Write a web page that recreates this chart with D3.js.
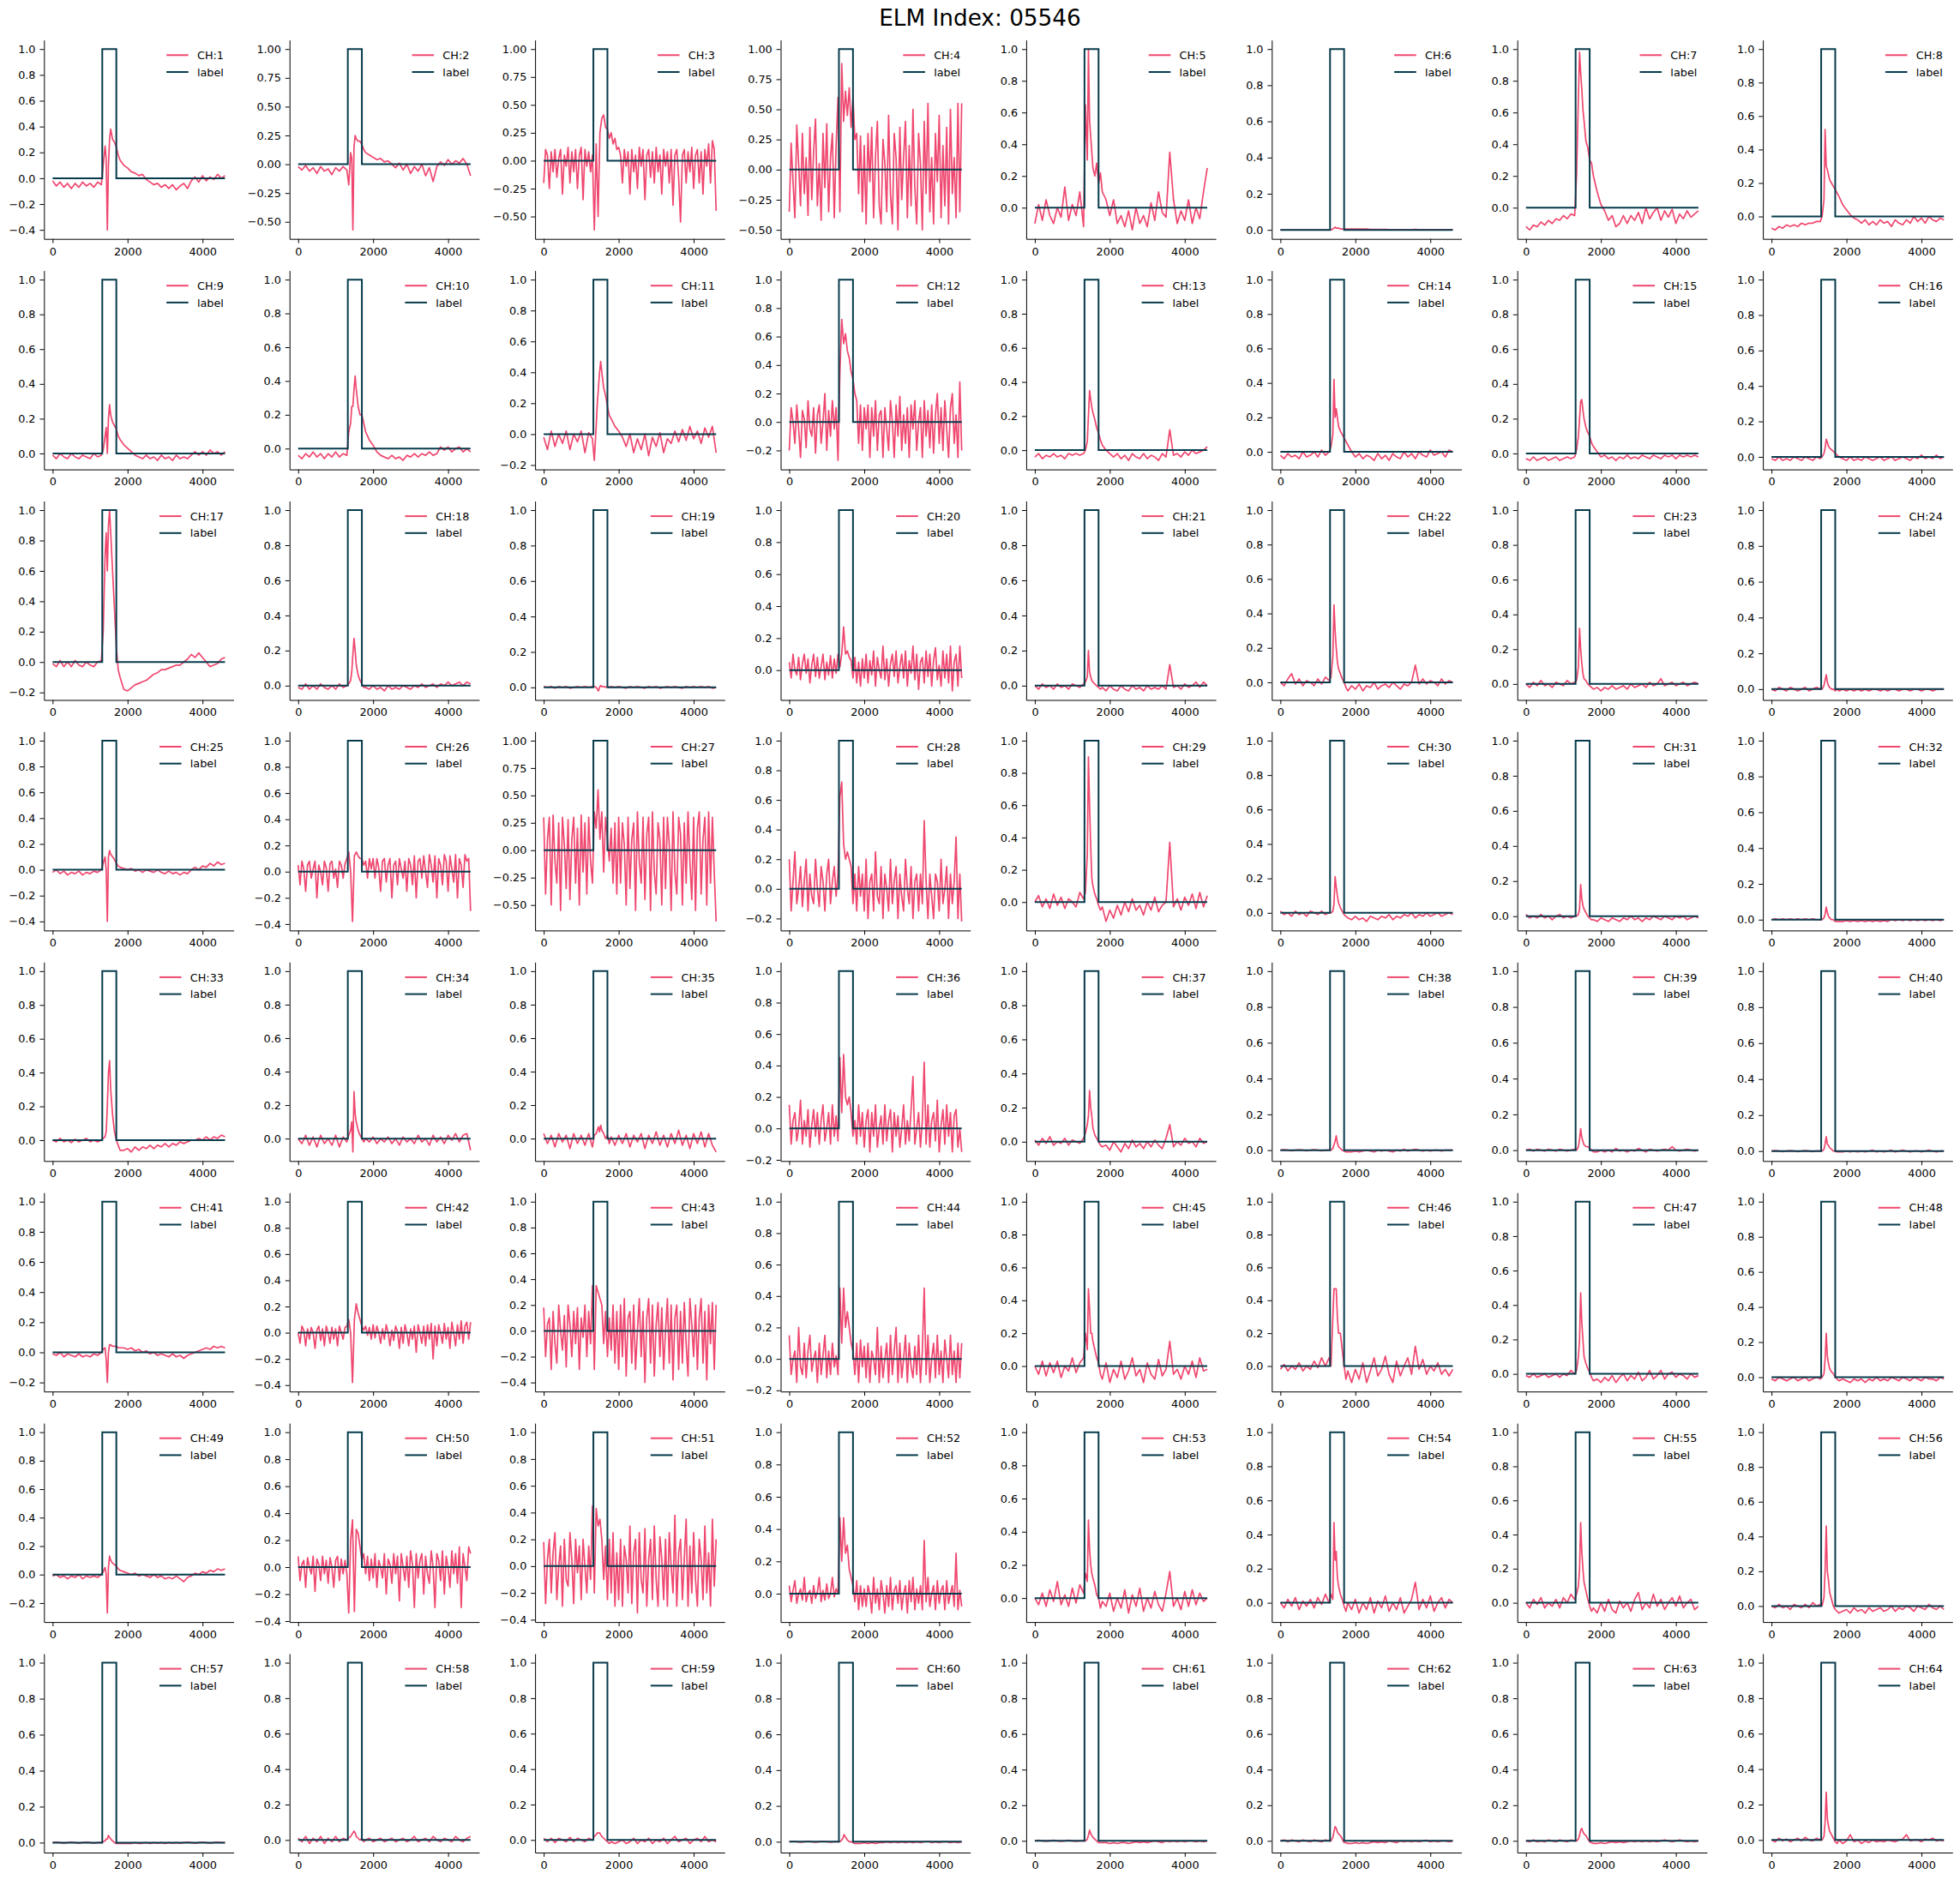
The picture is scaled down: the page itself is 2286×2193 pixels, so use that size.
<!DOCTYPE html>
<html><head><meta charset="utf-8">
<script src="https://cdn.jsdelivr.net/npm/d3@7"></script>
<style>body{margin:0;background:#fff} svg{display:block} text{font-family:"DejaVu Sans",sans-serif}</style>
</head><body>
<script>
const W=2286,H=2193;
const titleText="ELM Index: 05546";
// sample positions (time index) for the regular channels
const sampleX=[0,100,200,300,400,500,600,700,800,900,1000,1100,1200,1300,1350,1400,1430,1460,1490,1520,1550,1600,1650,1700,1750,1800,1900,2000,2100,2200,2300,2400,2500,2600,2700,2800,2900,3000,3100,3200,3300,3400,3500,3600,3700,3800,3900,4000,4100,4200,4300,4400,4500,4600];
// denser sample positions for the very noisy channels
const denseX=[0,50,100,150,200,250,300,350,400,450,500,550,600,650,700,750,800,850,900,950,1000,1050,1100,1150,1200,1250,1300,1350,1400,1450,1500,1550,1600,1650,1700,1750,1800,1850,1900,1950,2000,2050,2100,2150,2200,2250,2300,2350,2400,2450,2500,2550,2600,2650,2700,2750,2800,2850,2900,2950,3000,3050,3100,3150,3200,3250,3300,3350,3400,3450,3500,3550,3600,3650,3700,3750,3800,3850,3900,3950,4000,4050,4100,4150,4200,4250,4300,4350,4400,4450,4500,4550,4600];
const labelX=[0,1325,1325,1700,1700,4600];
const labelY=[0,0,1,1,0,0];
const xTicks=[0,2000,4000];
const legendLabel="label";

const ch1=[-0.02,-0.06,-0.03,-0.07,-0.04,-0.08,-0.04,-0.07,-0.03,-0.06,-0.04,-0.07,-0.03,-0.05, 0.1,0.25,0.15,-0.4,0.1,0.3,0.38,0.3,0.28,0.24,0.18,0.14, 0.1,0.08,0.05,0.04,0.02,0.03,-0.01,-0.03,-0.05,-0.04,-0.07,-0.05,-0.08,-0.05,-0.09,-0.06,-0.04,-0.08,-0.02,0.01,-0.03,0.02,-0.02,0.01,-0.01,0.03,0.0,0.02];
const ch2=[-0.02,-0.05,-0.01,-0.06,-0.03,-0.08,-0.02,-0.06,-0.04,-0.09,-0.03,-0.06,-0.02,-0.05, -0.18,0.1,0.05,-0.57,0.15,0.25,0.22,0.2,0.2,0.17,0.13,0.1, 0.08,0.06,0.04,0.05,0.02,0.03,0.0,-0.03,0.01,-0.05,0.0,-0.08,-0.02,-0.06,0.0,-0.1,-0.03,-0.15,-0.02,0.02,-0.01,0.04,0.0,0.03,0.01,0.05,0.0,-0.1];
const ch3=[-0.2,0.1,0.05,-0.25,0.08,-0.1,0.1,-0.15,0.02,0.1,-0.3,0.05,-0.05,0.12,-0.2,0.08,-0.1,0.1,-0.25,0.05,0.12,-0.35,0.1,-0.05,0.08,-0.1, 0.05,-0.62,0.15,-0.5,0.25,0.38,0.41,0.3,0.28,0.2,0.25,0.15,0.2,0.1,0.12, 0.05,-0.2,0.1,-0.05,0.08,-0.3,0.1,-0.1,0.05,-0.25,0.12,-0.05,0.1,-0.35,0.05,0.1,-0.15,0.08,-0.2,0.12,-0.1,0.05,-0.3,0.1,-0.05,0.08,-0.2,0.1,-0.4,0.05,0.1,-0.15,-0.55,0.05,0.1,-0.2,0.08,-0.1,0.12,-0.25,0.05,0.1,-0.2,0.08,-0.3,0.1,-0.05,0.15,-0.2,0.18,0.1,-0.45];
const ch4=[-0.35,0.22,-0.1,-0.4,0.37,0.05,-0.3,0.3,-0.2,0.1,-0.38,0.35,-0.25,0.15,0.42,-0.3,0.05,-0.42,0.3,-0.15,0.38,-0.35,0.1,0.3,-0.4,0.2, 0.6,-0.35,0.88,0.4,0.65,0.45,0.68,0.35,0.6,0.25,0.3,-0.2,0.28,-0.35,0.2, -0.45,0.3,-0.1,0.35,-0.4,0.1,0.4,-0.3,-0.45,0.25,0.05,-0.35,0.45,-0.2,-0.45,0.3,0.1,-0.5,0.35,-0.25,0.1,0.4,-0.4,0.2,-0.3,0.5,-0.15,-0.45,0.3,0.05,-0.5,0.4,-0.2,0.55,-0.35,0.1,-0.45,0.3,-0.1,0.45,-0.4,0.2,-0.3,0.35,-0.45,0.5,-0.2,0.1,-0.4,0.55,-0.35,0.55];
const ch5=[-0.1,0.02,-0.08,0.05,-0.05,-0.1,0.0,-0.06,0.13,-0.08,0.02,-0.05,0.1,-0.12, 0.65,0.3,1.0,0.55,0.45,0.35,0.25,0.2,0.28,0.15,0.22,0.1, 0.05,-0.05,0.05,-0.1,-0.05,-0.12,-0.02,-0.14,0.0,-0.1,-0.05,-0.12,0.03,-0.08,0.1,-0.03,-0.06,0.35,0.05,-0.1,-0.02,-0.08,0.05,-0.1,0.0,-0.07,0.1,0.25];
const ch6=[0,0,0,0,0,0,0,0,0,0,0,0,0,0, 0,0.005,0.01,0.015,0.01,0.01,0.01,0.005,0.005,0.005,0.005,0.005, 0.005,0.005,0.005,0.005,0.005,0.003,0.003,0.003,0.003,0.003,0.002,0.002,0.002,0.002,0.002,0.002,0.002,0.003,0.002,0.002,0.002,0.002,0.002,0.002,0.002,0.002,0.002,0.002];
const ch7=[-0.12,-0.14,-0.11,-0.12,-0.09,-0.11,-0.08,-0.1,-0.07,-0.08,-0.05,-0.07,-0.04,-0.05, 0.2,0.7,0.98,0.85,0.75,0.62,0.55,0.42,0.38,0.3,0.28,0.2, 0.1,0.02,-0.02,-0.08,-0.05,-0.12,-0.1,-0.05,-0.1,-0.05,-0.08,-0.03,-0.1,0.0,-0.07,-0.03,0.0,-0.08,-0.02,-0.06,-0.01,-0.1,-0.04,-0.07,-0.02,-0.06,-0.04,-0.02];
const ch8=[-0.07,-0.08,-0.06,-0.07,-0.05,-0.06,-0.05,-0.06,-0.04,-0.05,-0.04,-0.04,-0.03,-0.03, 0.0,0.1,0.52,0.3,0.28,0.25,0.22,0.2,0.18,0.16,0.14,0.12, 0.07,0.04,0.01,-0.01,-0.02,-0.04,-0.02,-0.05,-0.03,-0.05,-0.02,-0.04,-0.03,-0.06,-0.02,-0.04,-0.05,-0.02,-0.04,0.0,-0.03,-0.01,-0.04,0.0,-0.02,-0.03,-0.01,-0.02];
const ch9=[-0.01,-0.03,0.0,-0.02,-0.03,0.0,-0.02,-0.03,-0.01,-0.02,-0.03,0.0,-0.02,-0.01, 0.02,0.1,0.15,0.0,0.2,0.28,0.22,0.18,0.16,0.14,0.1,0.08, 0.05,0.03,0.01,-0.01,-0.02,-0.03,-0.01,-0.03,-0.02,-0.04,-0.01,-0.03,-0.02,-0.04,-0.01,-0.03,-0.02,-0.03,-0.01,0.01,-0.01,0.01,-0.01,0.02,0.0,0.01,-0.01,0.01];
const ch10=[-0.04,-0.06,-0.03,-0.05,-0.02,-0.05,-0.03,-0.06,-0.03,-0.05,-0.02,-0.05,-0.03,-0.04, 0.1,0.15,0.25,0.25,0.35,0.43,0.35,0.25,0.2,0.2,0.15,0.1, 0.05,0.02,-0.02,-0.04,-0.05,-0.06,-0.04,-0.06,-0.05,-0.07,-0.04,-0.05,-0.03,-0.05,-0.03,-0.04,-0.02,-0.04,-0.03,0.01,-0.01,0.01,-0.02,0.0,0.01,-0.02,0.0,-0.02];
const ch11=[-0.02,-0.1,0.02,-0.08,0.0,-0.06,0.02,-0.1,0.0,-0.05,0.02,-0.12,0.01,-0.03, -0.17,0.05,0.2,0.3,0.4,0.47,0.4,0.3,0.25,0.18,0.12,0.1, 0.05,0.02,-0.02,-0.08,0.0,-0.12,-0.03,-0.1,0.0,-0.14,-0.02,-0.08,0.01,-0.12,-0.03,-0.06,0.02,-0.05,0.03,-0.04,0.05,-0.03,0.02,-0.06,0.04,-0.02,0.05,-0.12];
const ch12=[-0.2,0.1,0.0,-0.15,0.12,-0.05,-0.25,0.08,0.02,-0.18,0.15,-0.05,-0.1,0.1,-0.22,0.05,0.12,-0.15,0.0,0.2,-0.2,0.08,-0.1,0.15,-0.05,0.1, -0.27,0.35,0.72,0.55,0.62,0.5,0.45,0.35,0.3,0.2,0.15,-0.15,0.12,-0.2,0.1, -0.05,0.12,-0.25,0.1,-0.1,0.15,-0.2,0.05,0.08,-0.25,0.1,-0.05,-0.2,0.15,0.0,-0.25,0.12,-0.1,0.18,-0.2,0.05,-0.15,0.1,-0.25,0.12,-0.05,0.15,-0.2,0.0,0.1,-0.25,0.15,-0.1,0.08,-0.18,0.12,-0.22,0.05,0.2,-0.15,0.1,-0.2,0.15,-0.05,-0.25,0.1,0.2,-0.15,0.05,-0.25,0.28,-0.2];
const ch13=[-0.04,-0.02,-0.05,-0.03,-0.04,-0.02,-0.04,-0.03,-0.05,-0.02,-0.03,-0.02,-0.03,-0.02, 0.0,0.05,0.2,0.35,0.3,0.25,0.22,0.18,0.13,0.1,0.06,0.03, 0.0,-0.02,-0.04,-0.02,-0.05,-0.03,-0.06,-0.02,-0.04,-0.05,-0.02,-0.05,-0.03,-0.04,-0.06,-0.02,-0.04,0.12,-0.03,-0.02,-0.04,-0.01,-0.03,0.0,-0.02,-0.01,0.0,0.02];
const ch14=[-0.02,-0.04,-0.01,-0.03,-0.02,-0.04,0.0,-0.03,-0.02,0.0,-0.03,0.01,-0.02,0.0, 0.03,0.1,0.42,0.2,0.25,0.2,0.15,0.12,0.1,0.08,0.06,0.04, 0.0,-0.03,-0.01,-0.04,-0.02,-0.03,-0.05,-0.01,-0.04,-0.02,-0.05,-0.01,-0.03,-0.04,0.0,-0.03,-0.01,-0.04,0.0,-0.02,-0.03,0.01,-0.02,-0.01,0.0,-0.03,0.01,0.0];
const ch15=[-0.03,-0.04,-0.02,-0.04,-0.03,-0.02,-0.04,-0.03,-0.02,-0.04,-0.03,-0.02,-0.03,-0.02, 0.02,0.1,0.2,0.3,0.31,0.25,0.2,0.15,0.12,0.1,0.06,0.04, 0.01,-0.02,-0.01,-0.03,-0.02,-0.04,-0.02,-0.03,-0.01,-0.03,-0.02,-0.03,-0.01,-0.02,-0.03,-0.01,-0.02,-0.03,-0.01,-0.02,-0.01,-0.03,-0.01,-0.02,-0.01,-0.02,-0.01,-0.02];
const ch16=[-0.01,-0.02,0.0,-0.02,-0.01,-0.02,0.0,-0.01,-0.02,0.0,-0.01,-0.02,0.0,-0.01, 0.0,0.02,0.05,0.1,0.08,0.06,0.05,0.04,0.03,0.02,0.01,0.0, -0.01,-0.02,0.0,-0.02,-0.01,-0.02,0.0,-0.01,-0.02,-0.01,0.0,-0.02,-0.01,0.0,-0.02,-0.01,0.0,-0.01,-0.02,0.0,-0.01,0.01,-0.01,0.0,-0.01,0.01,-0.01,0.0];
const ch17=[-0.01,-0.03,0.01,-0.03,0.0,-0.03,0.01,-0.02,-0.03,0.0,-0.02,-0.03,0.0,0.01, 0.2,0.7,0.85,0.6,0.9,1.0,0.85,0.6,0.35,0.1,-0.05,-0.1, -0.18,-0.19,-0.17,-0.15,-0.14,-0.13,-0.12,-0.1,-0.08,-0.07,-0.05,-0.05,-0.04,-0.03,-0.02,-0.02,0.0,0.02,0.05,0.03,0.06,0.03,0.0,-0.03,-0.02,-0.01,0.02,0.03];
const ch18=[-0.01,-0.02,0.01,-0.02,0.0,-0.02,0.01,-0.01,-0.02,0.0,-0.02,0.01,-0.01,0.0, 0.01,0.03,0.08,0.18,0.27,0.2,0.12,0.06,0.03,0.01,-0.01,-0.01, -0.02,0.0,-0.02,-0.01,-0.03,0.0,-0.02,-0.01,-0.02,0.0,-0.01,-0.02,0.0,-0.01,0.01,-0.01,0.0,0.01,-0.01,0.01,0.0,0.02,0.0,0.01,0.02,0.0,0.02,0.01];
const ch19=[0.005,0.0,0.005,-0.005,0.005,0.0,0.005,-0.005,0.0,0.005,0.0,0.005,0.0,0.005, 0.005,0.0,-0.01,-0.02,0.0,0.01,0.005,0.005,0.0,0.005,0.0,0.005, 0.0,0.005,0.0,-0.005,0.005,0.0,0.005,0.0,-0.005,0.005,0.0,0.005,-0.005,0.0,0.005,0.0,0.005,0.0,-0.005,0.005,0.0,0.005,0.0,0.005,0.0,0.005,-0.005,0.0];
const ch20=[0.05,-0.05,0.1,0.0,-0.03,0.08,-0.06,0.04,0.1,-0.02,0.07,-0.08,0.03,0.1,-0.04,0.08,-0.05,0.02,0.1,-0.06,0.05,-0.03,0.09,-0.05,0.07,-0.02, 0.1,0.02,0.1,0.27,0.1,0.12,0.08,0.06,-0.05,0.08,-0.08,0.05,-0.1,0.07,-0.05, 0.1,-0.08,0.06,-0.03,0.12,-0.1,0.08,0.0,-0.05,0.15,-0.06,0.07,-0.1,0.04,0.1,-0.04,0.12,-0.08,0.02,0.1,-0.05,0.12,-0.1,0.06,-0.02,0.15,-0.06,0.1,-0.12,0.05,0.08,-0.08,0.12,-0.04,0.1,-0.1,0.06,0.14,-0.06,0.03,-0.1,0.12,-0.05,0.1,-0.08,0.15,-0.13,0.05,0.1,-0.1,0.15,-0.05];
const ch21=[0.0,-0.02,0.01,-0.01,0.0,-0.02,0.01,-0.01,0.0,-0.02,0.01,0.0,-0.01,0.01, 0.02,0.05,0.2,0.08,0.05,0.03,0.02,0.01,0.0,-0.01,-0.02,-0.01, -0.03,0.0,-0.02,-0.03,0.0,-0.02,-0.03,0.0,-0.02,-0.01,-0.03,0.0,-0.02,-0.01,-0.02,0.0,-0.02,0.12,-0.01,0.0,-0.02,0.01,-0.01,0.0,0.02,-0.01,0.02,0.0];
const ch22=[0.0,-0.02,0.02,0.05,-0.01,0.02,-0.02,0.01,0.0,-0.02,0.02,-0.01,0.03,0.01, 0.03,0.15,0.45,0.3,0.2,0.12,0.08,0.05,0.02,0.0,-0.03,-0.05, -0.02,-0.04,-0.01,-0.05,-0.02,-0.03,0.0,-0.04,-0.02,-0.01,-0.03,0.0,-0.02,-0.04,-0.01,-0.02,0.0,0.1,-0.01,0.02,-0.01,0.01,0.0,-0.02,0.02,-0.01,0.01,0.0];
const ch23=[0.0,-0.02,0.01,-0.01,0.02,-0.01,0.0,-0.02,0.01,0.0,-0.01,0.02,0.0,0.01, 0.02,0.1,0.32,0.2,0.12,0.06,0.03,0.02,0.0,-0.01,-0.02,-0.03, -0.02,-0.04,-0.02,-0.03,-0.01,-0.03,-0.02,-0.01,-0.03,0.0,-0.02,-0.01,0.0,-0.02,0.01,-0.01,0.0,0.03,-0.01,0.0,0.01,-0.01,0.0,0.01,-0.01,0.0,0.01,0.0];
const ch24=[0.0,-0.01,0.01,0.0,-0.01,0.01,0.0,-0.01,0.0,0.01,-0.01,0.0,0.01,0.0, 0.0,0.02,0.05,0.08,0.04,0.02,0.01,0.0,0.0,-0.01,0.0,-0.01, 0.0,-0.01,0.0,-0.01,0.0,-0.01,0.0,-0.01,0.0,0.0,-0.01,0.0,-0.01,0.0,0.0,-0.01,0.0,0.0,-0.01,0.0,0.0,-0.01,0.0,0.0,-0.01,0.0,0.0,0.0];
const ch25=[-0.02,0.0,-0.03,-0.01,-0.04,-0.02,-0.03,-0.01,-0.04,-0.02,-0.03,-0.01,-0.02,0.0, 0.05,0.1,0.0,-0.4,0.1,0.15,0.12,0.1,0.08,0.05,0.03,0.02, 0.01,0.0,0.01,-0.01,0.0,-0.02,0.0,-0.01,-0.02,0.0,-0.02,-0.03,-0.01,-0.03,-0.02,-0.04,-0.02,-0.03,0.0,0.02,0.0,0.03,0.02,0.05,0.03,0.06,0.04,0.05];
const ch26=[0.05,-0.1,0.08,0.02,-0.15,0.05,0.08,-0.05,0.02,0.08,-0.2,0.05,0.0,-0.1,0.08,0.03,-0.15,0.06,0.08,-0.05,0.02,-0.12,0.08,0.05,-0.05,0.06, 0.1,0.15,0.0,-0.38,0.12,0.15,0.12,0.1,0.1,0.05,0.08,-0.05,0.1,0.02,0.1, -0.05,0.1,0.03,-0.15,0.08,0.1,-0.08,0.05,0.1,-0.2,0.05,0.08,-0.1,0.1,0.02,-0.05,0.08,-0.15,0.1,0.05,-0.1,0.12,-0.2,0.08,0.1,-0.05,0.12,0.0,-0.12,0.13,0.05,-0.08,0.12,-0.2,0.1,0.05,-0.1,0.13,0.08,-0.15,0.12,0.02,-0.08,0.13,-0.2,0.1,0.05,-0.12,0.13,0.08,0.1,-0.3];
const ch27=[0.3,-0.4,0.1,0.3,-0.5,0.32,-0.1,-0.3,0.25,-0.55,0.3,0.05,-0.35,0.28,-0.45,0.1,0.3,-0.3,0.2,-0.5,0.32,-0.2,0.25,-0.4,0.3,-0.1, -0.3,0.35,0.2,0.55,0.1,0.35,-0.2,0.3,0.1,-0.1,0.2,-0.3,0.25,-0.4,0.3, -0.3,0.25,0.05,-0.5,0.3,-0.35,0.1,0.25,-0.55,0.35,-0.1,-0.3,0.3,-0.45,0.15,0.3,-0.55,0.35,-0.2,-0.4,0.25,0.1,-0.5,0.3,-0.35,0.3,0.05,-0.55,0.35,-0.2,-0.4,0.3,0.15,-0.5,0.25,-0.3,0.35,-0.1,-0.45,0.3,-0.55,0.2,0.35,-0.4,0.1,0.3,-0.5,0.35,-0.3,0.3,-0.2,-0.65];
const ch28=[0.2,-0.15,0.05,0.25,-0.1,0.0,0.15,-0.12,0.05,0.2,-0.15,0.1,-0.05,-0.1,0.2,0.0,-0.12,0.15,0.05,-0.15,0.1,0.2,-0.1,0.05,0.15,-0.05, 0.1,0.62,0.72,0.3,0.2,0.25,0.2,0.15,-0.1,0.1,-0.15,0.15,-0.05,0.1,-0.15, 0.2,-0.2,0.05,0.1,-0.15,0.25,-0.05,-0.1,0.15,-0.2,0.1,0.0,-0.15,0.2,-0.1,0.05,0.15,-0.2,0.1,-0.05,-0.15,0.2,0.0,-0.1,0.15,-0.2,0.05,0.1,-0.15,0.1,-0.1,0.46,0.05,-0.2,0.1,-0.05,-0.2,0.1,0.05,-0.15,0.2,-0.1,0.0,0.15,-0.2,0.1,-0.1,0.05,0.35,-0.2,0.1,-0.22];
const ch29=[0.0,0.04,-0.03,0.02,-0.04,0.05,-0.02,0.03,-0.04,0.02,0.0,-0.03,0.06,0.02, 0.06,0.3,0.9,0.6,0.35,0.15,0.1,0.05,0.02,-0.02,-0.05,-0.03, -0.12,-0.05,-0.1,-0.02,-0.08,0.0,-0.06,0.02,-0.05,-0.02,-0.08,0.0,-0.05,0.03,-0.06,-0.02,0.0,0.37,-0.03,0.02,-0.05,0.03,-0.02,0.05,-0.04,0.06,-0.03,0.04];
const ch30=[0.01,-0.01,0.0,-0.02,0.01,-0.01,0.0,-0.02,0.01,0.0,-0.01,0.01,-0.01,0.0, 0.0,0.01,0.05,0.21,0.15,0.1,0.06,0.03,0.01,-0.01,-0.02,-0.03, -0.04,-0.02,-0.04,-0.03,-0.05,-0.02,-0.03,-0.04,-0.02,-0.03,-0.01,-0.04,-0.02,-0.03,-0.01,-0.02,0.0,-0.03,-0.01,-0.02,0.0,-0.02,-0.01,0.0,-0.02,-0.01,0.0,-0.01];
const ch31=[0.01,-0.01,0.0,-0.01,0.01,-0.01,0.0,-0.02,0.0,0.01,-0.01,0.0,-0.01,0.0, 0.0,0.01,0.04,0.18,0.1,0.06,0.04,0.02,0.0,-0.01,-0.02,-0.02, -0.03,-0.01,-0.02,-0.03,-0.01,-0.02,-0.03,-0.01,-0.02,0.0,-0.02,-0.01,-0.03,-0.01,-0.02,0.0,-0.01,-0.02,0.0,-0.01,-0.02,0.0,-0.01,0.0,-0.02,-0.01,0.0,-0.01];
const ch32=[0.0,0.005,0.0,0.005,0.0,0.005,0.0,0.005,0.0,0.005,0.0,0.005,0.0,0.0, 0.0,0.01,0.03,0.07,0.04,0.02,0.01,0.0,0.0,-0.01,-0.01,-0.01, -0.01,-0.005,-0.01,-0.005,-0.01,-0.005,-0.01,-0.005,-0.01,-0.005,-0.01,-0.005,-0.01,0.0,-0.005,0.0,-0.005,0.0,-0.005,0.0,-0.005,0.0,-0.005,0.0,-0.005,0.0,-0.005,0.0];
const ch33=[0.0,-0.01,0.01,-0.01,0.0,-0.015,0.005,-0.01,0.0,0.01,-0.01,0.0,-0.01,0.0, 0.01,0.02,0.05,0.2,0.4,0.47,0.3,0.15,0.05,0.0,-0.03,-0.06, -0.06,-0.05,-0.07,-0.04,-0.06,-0.04,-0.05,-0.03,-0.05,-0.03,-0.04,-0.02,-0.04,-0.02,-0.03,-0.01,-0.02,-0.01,0.0,0.0,0.01,0.0,0.02,0.0,0.02,0.01,0.03,0.02];
const ch34=[0.0,-0.03,0.02,-0.04,0.01,-0.05,0.02,-0.03,0.0,-0.04,0.02,-0.05,0.01,-0.02, 0.02,0.05,0.1,-0.08,0.28,0.15,0.1,0.05,0.02,0.0,-0.02,0.0, -0.02,0.01,-0.03,0.0,-0.02,0.01,-0.03,0.0,-0.04,0.01,-0.02,0.0,-0.03,0.02,-0.02,0.0,-0.04,0.02,-0.02,0.01,-0.03,0.02,-0.01,0.03,-0.02,0.02,0.03,-0.07];
const ch35=[0.03,-0.03,0.02,-0.05,0.03,-0.02,0.02,-0.06,0.03,-0.03,0.02,-0.04,0.03,-0.05, 0.02,0.03,0.05,0.07,0.04,0.08,0.05,0.03,0.0,0.02,-0.03,0.01, -0.04,0.02,-0.03,0.03,-0.05,0.02,-0.02,0.03,-0.06,0.02,-0.03,0.04,-0.04,0.02,-0.05,0.03,-0.03,0.05,-0.04,0.02,-0.06,0.03,-0.03,0.04,-0.05,0.03,-0.04,-0.08];
const ch36=[0.15,-0.1,0.05,0.1,-0.08,0.0,0.18,-0.1,0.05,-0.05,0.12,-0.12,0.02,0.12,-0.05,0.1,-0.1,0.05,0.15,-0.08,0.0,0.1,-0.1,0.15,-0.05,0.08, -0.08,0.45,0.1,0.47,0.2,0.15,0.2,0.1,-0.05,0.05,-0.1,0.15,-0.05,0.1,-0.12, 0.05,0.12,-0.15,0.1,-0.05,0.15,-0.12,0.0,0.08,-0.1,0.15,-0.08,0.05,0.12,-0.15,0.1,-0.05,0.08,-0.12,0.0,0.15,-0.1,0.05,-0.08,0.12,0.33,-0.1,0.0,0.1,-0.12,0.05,0.42,-0.1,0.15,-0.12,0.05,0.1,-0.08,0.18,-0.15,0.02,0.12,-0.1,0.15,-0.05,0.1,-0.15,0.08,0.12,-0.12,0.0,-0.15];
const ch37=[0.01,-0.02,0.02,-0.01,0.03,-0.02,0.0,-0.01,0.02,-0.02,0.01,0.0,-0.01,0.02, 0.05,0.1,0.15,0.3,0.2,0.15,0.08,0.04,0.02,0.0,-0.02,-0.03, -0.02,-0.05,0.0,-0.03,-0.06,-0.01,-0.04,0.01,-0.03,-0.01,-0.04,0.0,-0.03,0.01,-0.02,-0.04,0.02,0.1,-0.03,0.0,-0.02,0.02,-0.01,0.0,-0.03,0.02,-0.01,0.0];
const ch38=[0.0,0.003,0.0,-0.003,0.0,0.003,0.0,-0.003,0.0,0.003,0.0,-0.003,0.0,0.0, 0.0,0.01,0.03,0.05,0.08,0.04,0.02,0.01,0.0,-0.005,-0.01,-0.01, -0.01,-0.005,-0.01,-0.005,0.0,-0.005,-0.01,0.0,-0.005,0.0,-0.005,-0.01,0.0,-0.005,0.005,-0.005,0.0,0.005,0.0,-0.005,0.0,-0.005,0.0,0.0,-0.005,0.0,0.0,0.0];
const ch39=[0.0,0.005,-0.005,0.005,0.0,-0.005,0.005,0.0,-0.005,0.005,0.0,-0.005,0.0,0.005, 0.0,0.02,0.06,0.12,0.07,0.05,0.03,0.02,0.02,0.01,0.0,-0.01, -0.01,0.0,-0.01,0.0,-0.01,0.01,-0.005,0.0,-0.01,0.0,-0.005,0.01,0.0,-0.01,0.005,0.0,-0.005,0.0,0.005,0.0,0.02,0.0,-0.005,0.0,0.005,0.0,-0.005,0.0];
const ch40=[0.0,0.003,0.0,-0.003,0.0,0.003,0.0,-0.003,0.0,0.003,0.0,-0.003,0.0,0.0, 0.0,0.01,0.04,0.08,0.04,0.03,0.02,0.01,0.0,0.0,-0.005,-0.005, -0.005,0.0,-0.005,0.0,-0.005,0.0,-0.005,0.0,0.005,-0.005,0.0,-0.005,0.0,0.005,-0.005,0.0,0.005,0.0,-0.005,0.0,0.0,-0.005,0.0,0.005,0.0,-0.005,0.0,0.0];
const ch41=[-0.01,-0.02,0.0,-0.03,-0.01,-0.02,-0.03,-0.01,-0.03,-0.02,-0.03,-0.01,-0.02,0.0, 0.02,0.03,-0.05,-0.2,0.0,0.05,0.05,0.04,0.04,0.04,0.03,0.03, 0.03,0.02,0.03,0.01,0.02,0.0,0.01,-0.01,0.0,-0.02,-0.01,-0.02,-0.03,-0.01,-0.03,-0.02,-0.04,-0.02,-0.01,0.0,0.01,0.02,0.03,0.02,0.04,0.03,0.04,0.03];
const ch42=[0.0,-0.08,0.05,0.02,-0.1,0.03,-0.05,0.04,0.0,-0.12,0.02,0.05,-0.06,0.03,-0.1,0.05,0.0,-0.08,0.04,-0.05,0.03,-0.1,0.05,0.0,-0.05,0.04, 0.05,0.1,0.0,-0.38,0.1,0.22,0.15,0.1,0.05,0.02,0.05,-0.02,0.04,-0.05,0.06, -0.04,0.05,0.0,-0.08,0.03,-0.05,0.06,0.0,-0.1,0.02,-0.06,0.05,0.01,-0.12,0.04,-0.08,0.06,0.0,-0.1,0.03,-0.05,0.05,-0.15,0.06,0.0,-0.08,0.05,-0.1,0.06,-0.05,0.07,-0.2,0.05,-0.1,0.06,0.0,-0.08,0.07,-0.05,0.04,-0.12,0.08,0.0,-0.1,0.06,-0.05,0.09,-0.08,0.05,0.08,-0.05,0.08];
const ch43=[0.18,-0.2,0.05,0.1,-0.3,0.15,-0.1,-0.25,0.2,0.0,-0.15,0.12,-0.28,0.2,0.05,-0.2,0.15,-0.1,0.18,-0.3,0.1,-0.05,0.2,-0.2,0.15,-0.1, 0.35,-0.3,0.35,0.3,0.25,0.2,-0.1,0.15,-0.2,0.1,-0.15,0.2,-0.25,0.15,-0.3, 0.2,-0.2,0.25,-0.35,0.1,0.15,-0.25,0.2,-0.3,0.0,0.25,-0.2,0.15,-0.4,0.1,0.25,-0.25,0.2,-0.35,0.05,0.22,-0.2,0.18,-0.3,0.0,0.25,-0.25,0.2,-0.38,0.1,0.2,-0.3,0.15,-0.25,0.22,-0.1,-0.35,0.25,0.05,-0.2,0.2,-0.3,0.1,0.25,-0.25,0.15,-0.38,0.2,-0.1,0.22,-0.3,0.2];
const ch44=[0.15,-0.1,0.0,0.05,-0.15,0.2,-0.05,-0.1,0.1,-0.12,0.05,0.15,-0.08,0.0,0.05,-0.15,0.1,-0.1,0.02,0.15,-0.12,0.05,-0.1,0.1,-0.05,0.02, -0.1,0.45,0.1,0.45,0.2,0.3,0.2,0.1,0.05,-0.1,0.1,-0.15,0.12,-0.05,0.08, -0.12,0.1,-0.15,0.05,0.0,-0.1,0.2,-0.15,0.08,-0.12,0.0,0.1,-0.15,0.15,-0.1,0.05,0.2,-0.15,0.1,-0.12,0.0,0.15,-0.15,0.1,-0.05,-0.12,0.08,-0.1,0.15,-0.15,0.05,0.45,-0.1,0.15,-0.15,0.0,0.1,-0.12,0.15,-0.1,0.05,-0.15,0.12,0.0,-0.12,0.15,-0.1,0.05,-0.15,0.1,-0.12,0.1];
const ch45=[0.0,-0.05,0.03,-0.06,0.02,-0.04,0.03,-0.07,0.0,-0.03,0.05,-0.04,0.02,0.05, 0.2,0.1,0.47,0.35,0.2,0.2,0.15,0.1,0.05,0.02,-0.05,-0.08, 0.02,-0.1,-0.02,-0.07,0.03,-0.08,-0.03,0.05,-0.06,-0.02,-0.1,0.02,-0.05,-0.08,0.04,-0.06,-0.02,0.15,-0.05,-0.02,-0.08,0.0,-0.05,0.03,-0.07,0.05,-0.03,-0.02];
const ch46=[-0.02,0.01,-0.03,0.0,-0.02,0.02,-0.03,0.0,-0.02,0.03,-0.01,0.05,0.0,0.05, 0.0,0.3,0.47,0.47,0.47,0.3,0.2,0.2,0.1,0.0,-0.08,-0.03, -0.1,-0.02,-0.08,0.02,-0.1,-0.03,0.05,-0.06,-0.02,0.06,-0.05,-0.1,0.03,-0.06,0.0,0.05,-0.05,0.12,-0.02,0.04,-0.05,0.0,-0.03,0.02,-0.05,-0.02,-0.06,-0.02];
const ch47=[-0.01,-0.02,0.0,-0.02,-0.01,0.0,-0.02,-0.01,0.0,-0.02,0.0,-0.01,0.02,0.0, 0.02,0.1,0.2,0.47,0.3,0.2,0.1,0.06,0.03,0.01,-0.02,-0.04, -0.03,-0.05,-0.02,-0.04,-0.01,-0.05,-0.02,0.0,-0.04,-0.01,-0.03,0.01,-0.04,-0.02,0.02,-0.03,-0.01,0.02,-0.03,0.0,0.01,-0.02,0.0,-0.01,-0.03,0.0,-0.02,-0.01];
const ch48=[-0.01,-0.02,0.0,-0.01,-0.02,-0.01,0.0,-0.02,-0.01,0.0,-0.02,-0.01,0.0,-0.01, 0.0,0.02,0.1,0.25,0.12,0.08,0.05,0.03,0.02,0.0,-0.01,-0.02, -0.01,-0.02,-0.03,-0.01,-0.02,-0.01,-0.03,-0.01,-0.02,0.0,-0.02,-0.01,-0.02,0.0,-0.01,-0.02,0.0,-0.01,-0.02,0.0,-0.01,-0.02,0.0,-0.01,-0.01,-0.02,0.0,-0.01];
const ch49=[-0.01,0.0,-0.02,-0.01,-0.03,-0.01,-0.02,0.0,-0.03,-0.01,-0.02,-0.01,-0.02,0.0, 0.02,0.05,0.0,-0.27,0.05,0.13,0.1,0.08,0.07,0.06,0.04,0.03, 0.02,0.01,0.0,0.01,-0.01,0.0,-0.01,-0.02,0.0,-0.02,-0.01,-0.03,-0.02,-0.03,-0.01,-0.03,-0.05,-0.02,-0.01,0.01,0.0,0.02,0.01,0.03,0.02,0.04,0.03,0.04];
const ch50=[0.08,-0.1,0.02,0.05,-0.15,0.07,0.0,-0.05,0.08,-0.18,0.06,0.02,-0.1,0.08,-0.05,0.05,-0.12,0.07,0.0,-0.15,0.05,0.08,-0.1,0.06,-0.05,0.05, -0.05,-0.34,0.2,0.35,-0.33,0.28,0.25,0.15,0.05,0.1,-0.05,0.08,-0.1,0.06,-0.08, 0.1,-0.15,0.05,0.0,-0.08,0.1,-0.2,0.06,0.02,-0.12,0.1,-0.05,0.08,-0.25,0.1,0.0,-0.1,0.08,-0.15,0.12,0.02,-0.3,0.1,-0.08,0.05,0.1,-0.2,0.08,-0.05,-0.12,0.12,0.0,-0.3,0.1,0.05,-0.1,0.12,-0.2,0.08,0.0,-0.15,0.12,-0.05,0.1,-0.12,0.15,-0.3,0.1,0.0,-0.1,0.15,0.1];
const ch51=[0.18,-0.28,0.05,0.2,-0.2,0.1,0.25,-0.25,0.0,0.15,-0.3,0.2,-0.1,-0.15,0.25,0.05,-0.28,0.2,-0.05,0.15,-0.25,0.2,0.0,-0.2,0.15,-0.1, 0.45,-0.2,0.43,0.3,0.35,0.2,-0.1,0.15,-0.25,0.2,-0.2,0.25,-0.3,0.1,-0.25, 0.2,-0.3,0.15,0.05,-0.2,0.3,-0.28,0.1,0.2,-0.35,0.25,-0.1,-0.2,0.28,-0.3,0.05,0.2,-0.25,0.3,-0.1,-0.3,0.22,0.05,-0.25,0.2,-0.3,0.25,0.0,-0.2,0.38,-0.3,0.1,0.2,-0.25,0.05,0.35,-0.3,0.15,-0.2,0.25,-0.1,-0.3,0.2,0.05,-0.25,0.3,-0.2,0.1,-0.3,0.35,-0.15,0.2];
const ch52=[0.05,-0.05,0.02,0.08,-0.06,0.0,0.03,-0.04,0.1,-0.05,0.0,0.02,-0.06,0.05,-0.03,0.01,0.1,-0.05,0.02,-0.04,0.06,-0.03,0.0,0.1,-0.02,0.03, 0.0,0.47,0.2,0.47,0.25,0.3,0.15,0.1,0.05,-0.05,0.08,-0.1,0.05,-0.08,0.03, -0.08,0.05,0.0,-0.12,0.1,-0.06,0.03,-0.1,0.08,0.0,-0.12,0.05,-0.08,0.1,-0.1,0.02,0.05,-0.06,0.08,-0.1,0.0,0.05,-0.12,0.08,-0.05,0.1,-0.1,0.03,-0.06,0.05,-0.1,0.33,-0.05,0.1,-0.08,0.0,0.05,-0.1,0.08,-0.06,0.02,0.05,-0.1,0.08,-0.06,0.0,0.05,-0.08,0.25,-0.1,0.02,-0.08];
const ch53=[0.0,-0.04,0.03,-0.05,0.05,-0.02,0.1,-0.04,0.02,-0.05,0.06,-0.03,0.08,0.03, 0.15,0.1,0.47,0.3,0.2,0.15,0.12,0.08,0.02,0.0,-0.06,-0.02, -0.05,0.03,-0.08,0.0,-0.06,0.05,-0.09,0.02,-0.05,0.06,-0.08,0.0,-0.06,0.04,-0.04,-0.08,0.03,0.16,-0.05,0.0,-0.07,0.04,-0.05,0.05,-0.04,0.03,-0.02,0.0];
const ch54=[0.0,-0.03,0.02,-0.02,0.03,-0.04,0.01,-0.02,0.02,-0.03,0.03,-0.01,0.05,0.0, 0.05,0.02,0.47,0.25,0.3,0.15,0.1,0.05,0.02,-0.02,-0.05,0.0, -0.04,0.02,-0.06,0.0,-0.04,0.03,-0.06,0.01,-0.03,0.04,-0.05,0.0,-0.04,0.03,-0.06,-0.02,0.02,0.12,-0.04,0.02,-0.03,0.04,-0.05,0.0,0.03,-0.03,0.02,0.0];
const ch55=[0.0,-0.03,0.02,-0.01,0.03,-0.03,0.0,-0.02,0.02,-0.03,0.03,0.0,0.05,0.02, 0.05,0.1,0.2,0.47,0.3,0.2,0.12,0.07,0.02,-0.02,-0.05,-0.03, -0.06,0.0,-0.05,0.02,-0.04,-0.06,0.01,-0.03,0.0,-0.05,0.02,0.06,-0.04,0.0,-0.03,0.05,-0.02,0.02,-0.04,0.0,0.03,-0.02,0.04,-0.03,0.0,0.02,-0.04,-0.02];
const ch56=[0.0,-0.01,0.01,-0.01,0.0,-0.02,0.01,0.0,-0.01,0.01,-0.01,0.02,0.0,0.01, 0.0,0.05,0.2,0.46,0.2,0.15,0.08,0.04,0.0,-0.02,-0.03,-0.04, -0.03,-0.02,-0.04,-0.01,-0.03,-0.02,-0.04,-0.01,-0.03,-0.02,-0.01,-0.03,-0.02,0.0,-0.03,-0.01,-0.02,0.0,-0.01,-0.03,0.0,-0.01,-0.02,0.01,-0.01,-0.02,0.0,-0.02];
const ch57=[0.0,0.003,0.0,-0.003,0.0,0.003,0.0,-0.003,0.0,0.003,0.0,-0.003,0.0,0.0, 0.005,0.01,0.02,0.02,0.04,0.03,0.02,0.01,0.0,-0.005,-0.005,-0.005, -0.005,-0.003,-0.005,0.0,-0.005,-0.003,0.0,-0.005,0.0,-0.003,0.0,-0.005,0.0,-0.003,0.0,-0.003,0.0,0.003,0.0,-0.003,0.0,0.003,0.0,-0.003,0.0,0.003,0.0,0.0];
const ch58=[0.01,-0.01,0.02,-0.02,0.01,-0.01,0.02,-0.02,0.01,-0.01,0.02,-0.01,0.01,0.0, 0.01,0.02,0.03,0.04,0.05,0.04,0.02,0.01,0.0,0.01,-0.01,0.0, 0.01,-0.01,0.0,0.01,-0.01,0.0,0.01,-0.01,0.0,0.01,-0.01,0.0,0.02,-0.01,0.0,0.01,-0.01,0.02,0.0,-0.01,0.01,0.0,-0.01,0.02,0.0,-0.01,0.01,0.02];
const ch59=[0.01,-0.01,0.01,-0.015,0.01,0.0,-0.01,0.015,-0.01,0.01,0.0,-0.01,0.01,0.0, 0.02,0.03,0.04,0.04,0.04,0.03,0.02,0.01,0.0,-0.01,-0.02,-0.01, -0.02,-0.01,0.0,-0.02,-0.01,0.01,-0.02,0.0,-0.01,0.01,-0.02,0.0,-0.01,0.01,-0.02,0.0,0.02,-0.01,0.0,0.01,-0.02,0.0,0.01,-0.01,0.02,-0.01,0.0,-0.01];
const ch60=[0.0,0.003,0.0,-0.003,0.0,0.003,0.0,-0.003,0.0,0.003,0.0,-0.003,0.0,0.0, 0.0,0.01,0.02,0.04,0.03,0.02,0.01,0.0,0.0,-0.005,-0.01,-0.01, -0.01,-0.005,-0.01,-0.005,-0.01,-0.005,-0.005,0.0,-0.005,0.0,-0.005,0.0,-0.005,0.0,-0.005,0.0,-0.005,0.0,0.003,-0.005,0.0,-0.005,0.0,0.0,-0.005,0.0,-0.005,0.0];
const ch61=[0.0,0.003,0.0,-0.003,0.0,0.003,0.0,-0.003,0.0,0.003,0.0,-0.003,0.0,0.0, 0.0,0.01,0.03,0.06,0.04,0.03,0.02,0.01,0.0,-0.01,-0.01,-0.01, -0.01,-0.015,-0.01,-0.015,-0.01,-0.01,-0.015,-0.01,-0.005,-0.01,-0.005,-0.01,-0.005,0.0,-0.005,-0.01,0.0,-0.005,0.0,-0.005,0.0,-0.005,0.0,0.0,-0.005,0.0,-0.005,0.0];
const ch62=[0.0,0.005,-0.005,0.005,0.0,-0.005,0.005,0.0,-0.005,0.005,0.0,-0.005,0.005,0.0, 0.0,0.02,0.05,0.08,0.07,0.05,0.04,0.03,0.01,-0.01,-0.01,-0.015, -0.015,-0.01,-0.015,-0.01,-0.015,-0.01,-0.005,-0.01,-0.005,-0.01,0.0,-0.005,-0.01,0.0,-0.005,0.0,-0.005,0.0,-0.005,0.0,0.003,-0.005,0.0,-0.005,0.0,0.0,-0.005,0.0];
const ch63=[0.0,-0.005,0.005,-0.005,0.0,-0.005,0.005,0.0,-0.005,0.005,0.0,-0.005,0.005,0.0, 0.0,0.01,0.03,0.06,0.07,0.05,0.04,0.03,0.01,-0.005,-0.01,-0.015, -0.015,-0.01,-0.015,-0.01,-0.005,-0.01,-0.005,-0.01,-0.005,0.0,-0.005,0.0,-0.005,0.0,-0.005,0.0,-0.005,0.0,0.005,0.0,-0.005,0.0,0.005,0.0,-0.005,0.0,-0.005,0.0];
const ch64=[0.0,-0.01,0.01,-0.005,0.005,-0.01,0.0,0.01,-0.005,0.015,0.0,-0.005,0.01,0.0, 0.0,0.02,0.1,0.27,0.12,0.08,0.05,0.03,0.01,-0.01,-0.02,0.0, -0.02,-0.005,0.03,-0.01,0.0,-0.02,-0.005,-0.015,0.0,-0.01,-0.005,-0.01,0.0,-0.005,-0.01,0.0,0.005,0.03,-0.005,0.0,0.0,-0.01,0.005,0.0,0.01,-0.005,0.0,-0.005];

const channelSeries=[ch1,ch2,ch3,ch4,ch5,ch6,ch7,ch8,ch9,ch10,ch11,ch12,ch13,ch14,ch15,ch16,ch17,ch18,ch19,ch20,ch21,ch22,ch23,ch24,ch25,ch26,ch27,ch28,ch29,ch30,ch31,ch32,ch33,ch34,ch35,ch36,ch37,ch38,ch39,ch40,ch41,ch42,ch43,ch44,ch45,ch46,ch47,ch48,ch49,ch50,ch51,ch52,ch53,ch54,ch55,ch56,ch57,ch58,ch59,ch60,ch61,ch62,ch63,ch64];
const channelNames=channelSeries.map((_,i)=>"CH:"+(i+1));

const SIG_COLOR="#ef476f", LAB_COLOR="#073b4c";
const FS=12.8;
const AX={left:51.3,dx:286.4,top:46.7,dy:268.9,w:221.2,h:232};

const svg=d3.select("body").append("svg").attr("width",W).attr("height",H);
svg.append("rect").attr("width",W).attr("height",H).attr("fill","#fff");
svg.append("text").attr("x",W/2).attr("y",29.5).attr("text-anchor","middle")
  .attr("font-size",26.3).attr("fill","#000").text(titleText);

const xmin=d3.min(sampleX), xmax=d3.max(sampleX), xpad=(xmax-xmin)*0.05;
const x=d3.scaleLinear().domain([xmin-xpad,xmax+xpad]).range([0,AX.w]);

function mplTicks(lo,hi,nbins){
  const raw=(hi-lo)/nbins;
  const sc=Math.pow(10,Math.floor(Math.log10(raw)));
  const mults=[1,2,2.5,5,10];
  let m=mults.find(s=>s*sc>=raw-1e-12);
  const step=m*sc;
  let dec=Math.max(0,-Math.round(Math.log10(sc)));
  if(m===2.5) dec+=1;
  if(m===10) dec=Math.max(0,dec-1);
  const ticks=[];
  for(let k=Math.ceil(lo/step-1e-9);k*step<=hi+1e-9;k++) ticks.push(+(k*step).toFixed(10));
  return {ticks,dec};
}
const fmtMinus=(v,dec)=>{const s=Math.abs(v).toFixed(dec); return (v<-1e-12?"\u2212":"")+s;};

channelSeries.forEach((vals,i)=>{
  const r=Math.floor(i/8), c=i%8;
  const g=svg.append("g").attr("transform",`translate(${AX.left+c*AX.dx},${AX.top+r*AX.dy})`);
  const grid=vals.length===denseX.length?denseX:sampleX;
  const n=Math.min(vals.length,grid.length);
  const pts=d3.range(n).map(k=>[grid[k],vals[k]]);
  const lab=labelX.map((v,k)=>[v,labelY[k]]);
  const allY=pts.map(p=>p[1]).concat(labelY);
  const lo=d3.min(allY), hi=d3.max(allY), pad=(hi-lo)*0.05;
  const y=d3.scaleLinear().domain([lo-pad,hi+pad]).range([AX.h,0]);
  const tk=mplTicks(lo-pad,hi+pad,8);

  const line=d3.line().x(d=>x(d[0])).y(d=>y(d[1]));
  g.append("path").datum(pts).attr("d",line).attr("fill","none")
    .attr("stroke",SIG_COLOR).attr("stroke-width",1.7).attr("stroke-linejoin","round");
  g.append("path").datum(lab).attr("d",line).attr("fill","none")
    .attr("stroke",LAB_COLOR).attr("stroke-width",2).attr("stroke-linejoin","miter");

  const ya=d3.axisLeft(y).tickValues(tk.ticks).tickFormat(v=>fmtMinus(v,tk.dec))
    .tickSizeInner(4.9).tickSizeOuter(0).tickPadding(4.9);
  const xa=d3.axisBottom(x).tickValues(xTicks).tickFormat(d3.format("d"))
    .tickSizeInner(4.9).tickSizeOuter(0).tickPadding(4.9);
  const gy=g.append("g").call(ya);
  const gx=g.append("g").attr("transform",`translate(0,${AX.h})`).call(xa);
  [gy,gx].forEach(a=>{
    a.attr("font-family","DejaVu Sans, sans-serif").attr("font-size",FS);
    a.selectAll("path.domain").attr("stroke","#000").attr("stroke-width",1);
    a.selectAll(".tick line").attr("stroke","#000").attr("stroke-width",1);
    a.selectAll(".tick text").attr("fill","#000");
  });

  const leg=g.append("g");
  const names=[channelNames[i],legendLabel];
  const cols=[SIG_COLOR,LAB_COLOR];
  const rowsY=[17.6,37.3];
  const texts=names.map((t,k)=>leg.append("text").attr("font-size",FS).attr("fill","#000")
    .attr("y",rowsY[k]+0.365*FS).text(t));
  const maxW=d3.max(texts,t=>t.node().getComputedTextLength());
  const tx=AX.w-0.9*FS-maxW;
  texts.forEach(t=>t.attr("x",tx));
  names.forEach((t,k)=>{
    leg.append("line").attr("x1",tx-0.8*FS-2*FS).attr("x2",tx-0.8*FS)
      .attr("y1",rowsY[k]).attr("y2",rowsY[k]).attr("stroke",cols[k]).attr("stroke-width",2);
  });
});
</script>
</body></html>
